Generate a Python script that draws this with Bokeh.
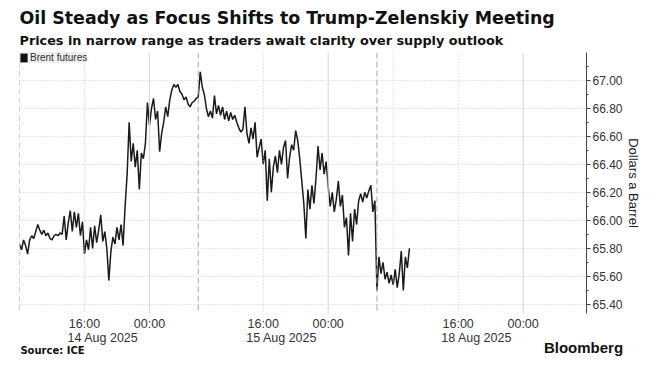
import numpy as np
import pandas as pd
from bokeh.plotting import figure
from bokeh.models import (Range1d, LinearAxis, FixedTicker, SingleIntervalTicker, Span,
                          Legend, LegendItem, Title, ColumnDataSource,
                          CustomJSTickFormatter, NumeralTickFormatter)
from bokeh.embed import file_html
from bokeh.resources import INLINE

# ---------------- data ----------------
# trading sessions (UTC+8 clock), each sampled every 15 minutes
session_starts = ["2025-08-14 08:00", "2025-08-15 08:00", "2025-08-18 06:00"]
session_hours = [22, 22, 24]

brent_s1 = [65.83, 65.79, 65.86, 65.82, 65.76, 65.86, 65.89, 65.87, 65.92, 65.97,
            65.93, 65.90, 65.93, 65.89, 65.91, 65.87, 65.86, 65.89, 65.90, 65.89,
            65.91, 65.90, 66.03, 65.86, 65.98, 66.07, 65.92, 66.06, 65.95, 66.05,
            65.89, 65.99, 65.76, 65.86, 65.79, 65.95, 65.80, 65.96, 65.84, 65.93,
            66.04, 65.85, 65.92, 65.80, 65.57, 65.78, 65.88, 65.83, 65.95, 65.86,
            65.97, 65.82, 66.10, 66.33, 66.70, 66.42, 66.55, 66.38, 66.50, 66.22,
            66.48, 66.44, 66.55, 66.84, 66.68, 66.80, 66.87, 66.72, 66.78, 66.49,
            66.62, 66.70, 66.81, 66.74, 66.86, 66.93, 66.97, 66.95, 66.97, 66.92,
            66.90, 66.86, 66.88, 66.83, 66.81, 66.84, 66.85, 66.87]
brent_s2 = [66.88, 67.06, 66.95, 66.90, 66.80, 66.74, 66.78, 66.73, 66.89, 66.76,
            66.82, 66.75, 66.81, 66.72, 66.78, 66.71, 66.77, 66.72, 66.75, 66.70,
            66.66, 66.63, 66.65, 66.81, 66.62, 66.55, 66.66, 66.58, 66.70, 66.45,
            66.52, 66.58, 66.40, 66.50, 66.14, 66.44, 66.20, 66.38, 66.46, 66.34,
            66.50, 66.40, 66.52, 66.57, 66.30, 66.45, 66.54, 66.50, 66.64, 66.57,
            66.44, 66.28, 66.12, 65.87, 66.22, 66.08, 66.25, 66.12, 66.30, 66.53,
            66.36, 66.48, 66.33, 66.42, 66.24, 66.10, 66.20, 66.06, 66.15, 66.28,
            66.10, 66.18, 65.95, 66.02, 65.75, 66.05, 65.85, 66.08, 65.97, 66.14,
            66.19, 66.13, 66.20, 66.16, 66.21, 66.25, 66.06, 66.14]
brent_s3 = [65.50, 65.74, 65.62, 65.70, 65.58, 65.63, 65.55, 65.61, 65.54, 65.65,
            65.52, 65.62, 65.78, 65.50, 65.74, 65.66, 65.80]

time_tick_times = ["2025-08-14 16:00", "2025-08-15 00:00", "2025-08-15 16:00",
                   "2025-08-16 00:00", "2025-08-18 16:00", "2025-08-19 00:00"]
time_tick_labels = ["16:00", "00:00", "16:00", "00:00", "16:00", "00:00"]
date_tick_times = ["2025-08-14 16:00", "2025-08-15 16:00", "2025-08-18 16:00"]
date_tick_labels = ["14 Aug 2025", "15 Aug 2025", "18 Aug 2025"]
dotted_times = ["2025-08-14 16:00", "2025-08-15 16:00", "2025-08-18 08:00", "2025-08-18 16:00"]
solid_times = ["2025-08-15 00:00", "2025-08-16 00:00", "2025-08-19 00:00"]
source_text = "Source: ICE"
brand_text = "Bloomberg"

# ---------------- trading-time axis mapping ----------------
starts = [pd.Timestamp(s) for s in session_starts]
offsets = np.concatenate([[0], np.cumsum(session_hours)[:-1]])


def to_axis(t):
    t = pd.Timestamp(t)
    for st, off, ln in zip(starts, offsets, session_hours):
        d = (t - st).total_seconds() / 3600.0
        if 0 <= d <= ln:
            return float(off + d)
    raise ValueError(t)


xs, ys = [], []
for st, vals in zip(session_starts, [brent_s1, brent_s2, brent_s3]):
    times = pd.date_range(st, periods=len(vals), freq="15min")
    xs += [to_axis(t) for t in times]
    ys += vals

src = ColumnDataSource(dict(x=xs, y=ys))

# ---------------- figure ----------------
W, H = 657, 371
BL, BR, BT, BB = 19, 71, 52, 58
frame_w = W - BL - BR
X_END = 69.8
Y_LO, Y_HI = 65.335, 67.198
px_per_hour = frame_w / X_END

p = figure(width=W, height=H, output_backend="svg", toolbar_location=None,
           x_range=Range1d(0, X_END), y_range=Range1d(Y_LO, Y_HI),
           y_axis_location="right", x_axis_location=None,
           min_border_left=BL, min_border_right=BR, min_border_top=BT, min_border_bottom=BB)
p.outline_line_color = None
p.background_fill_color = "white"
p.border_fill_color = "white"

FONT = "Liberation Sans"
TFONT = "DejaVu Sans"

# titles
p.add_layout(Title(text="Prices in narrow range as traders await clarity over supply outlook",
                   text_font=TFONT, text_font_size="12.8px", text_font_style="bold",
                   text_color="#111111", align="left", standoff=9, offset=0), "above")
p.add_layout(Title(text="Oil Steady as Focus Shifts to Trump-Zelenskiy Meeting",
                   text_font=TFONT, text_font_size="17.4px", text_font_style="bold",
                   text_color="#111111", align="left", standoff=-2, offset=0), "above")

# y axis (right)
ya = p.yaxis[0]
ya.ticker = SingleIntervalTicker(interval=0.2, num_minor_ticks=2)
ya.formatter = NumeralTickFormatter(format="0.00")
ya.axis_line_color = "#444444"
ya.major_tick_line_color = "#444444"
ya.minor_tick_line_color = "#444444"
ya.major_tick_in = 0
ya.major_tick_out = 4
ya.minor_tick_in = 0
ya.minor_tick_out = 2
ya.major_label_standoff = 2
ya.major_label_text_font = FONT
ya.major_label_text_font_size = "12px"
ya.major_label_text_color = "#333333"
ya.axis_label = "Dollars a Barrel"
ya.axis_label_text_font = FONT
ya.axis_label_text_font_size = "13px"
ya.axis_label_text_font_style = "normal"
ya.axis_label_text_color = "#222222"
ya.axis_label_standoff = 0

# grids
p.ygrid.grid_line_color = "#cfcfcf"
p.ygrid.grid_line_dash = "1 2"
p.xgrid.grid_line_color = None

for st in session_starts:
    p.add_layout(Span(location=to_axis(st), dimension="height", line_color="#a8a8a8",
                      line_dash="6 3", line_width=1))
for t in dotted_times:
    p.add_layout(Span(location=to_axis(t), dimension="height", line_color="#c8c8c8",
                      line_dash="1 2", line_width=1))
for t in solid_times:
    p.add_layout(Span(location=to_axis(t), dimension="height", line_color="#d6d6d6",
                      line_width=1))


# bottom rows are drawn as tick-label rows of plain axes
def plain_axis(ticks, labels, standoff, font=FONT, size="12.5px", style="normal",
               color="#333333"):
    ax = LinearAxis(ticker=FixedTicker(ticks=ticks, minor_ticks=[]),
                    formatter=CustomJSTickFormatter(args=dict(labels=labels),
                                                    code="return labels[index] || '';"))
    ax.axis_line_color = None
    ax.major_tick_line_color = None
    ax.minor_tick_line_color = None
    ax.major_tick_in = 0
    ax.major_tick_out = 0
    ax.minor_tick_in = 0
    ax.minor_tick_out = 0
    ax.major_label_standoff = standoff
    ax.major_label_text_font = font
    ax.major_label_text_font_size = size
    ax.major_label_text_font_style = style
    ax.major_label_text_color = color
    return ax


def px_to_x(px):
    return (px - BL) / px_per_hour


time_ticks = [to_axis(t) for t in time_tick_times]
p.add_layout(plain_axis(time_ticks, time_tick_labels, 3), "below")

date_shift_px = 18.5
date_ticks = [to_axis(t) + date_shift_px / px_per_hour for t in date_tick_times]
p.add_layout(plain_axis(date_ticks, date_tick_labels, -3), "below")

# footer: brand on the right, source on the left (pulled up into the same row)
brand_center_px = 622 - 39
p.add_layout(plain_axis([px_to_x(brand_center_px)], [brand_text], -9, font=FONT,
                        size="15px", style="bold", color="#111111"), "below")
source_center_px = 20 + 32
p.add_layout(plain_axis([px_to_x(source_center_px)], [source_text], -14, font=TFONT,
                        size="10px", style="bold", color="#111111"), "below")

# price line
p.line("x", "y", source=src, line_color="#1a1a1a", line_width=1.5)

# legend (square swatch; the swatch renderer itself has no visible area)
swatch = p.quad(left=[np.nan], right=[np.nan], top=[np.nan], bottom=[np.nan],
                fill_color="#111111", line_color=None)
legend = Legend(items=[LegendItem(label="Brent futures", renderers=[swatch])],
                location="top_left", margin=0, padding=6, spacing=0,
                glyph_width=9, glyph_height=11, label_standoff=2,
                label_text_font=FONT, label_text_font_size="10px",
                label_text_color="#333333", label_height=11,
                background_fill_color="#eeeeee", background_fill_alpha=1.0,
                border_line_color=None)
p.add_layout(legend)

open("out.html", "w").write(file_html(p, INLINE))
